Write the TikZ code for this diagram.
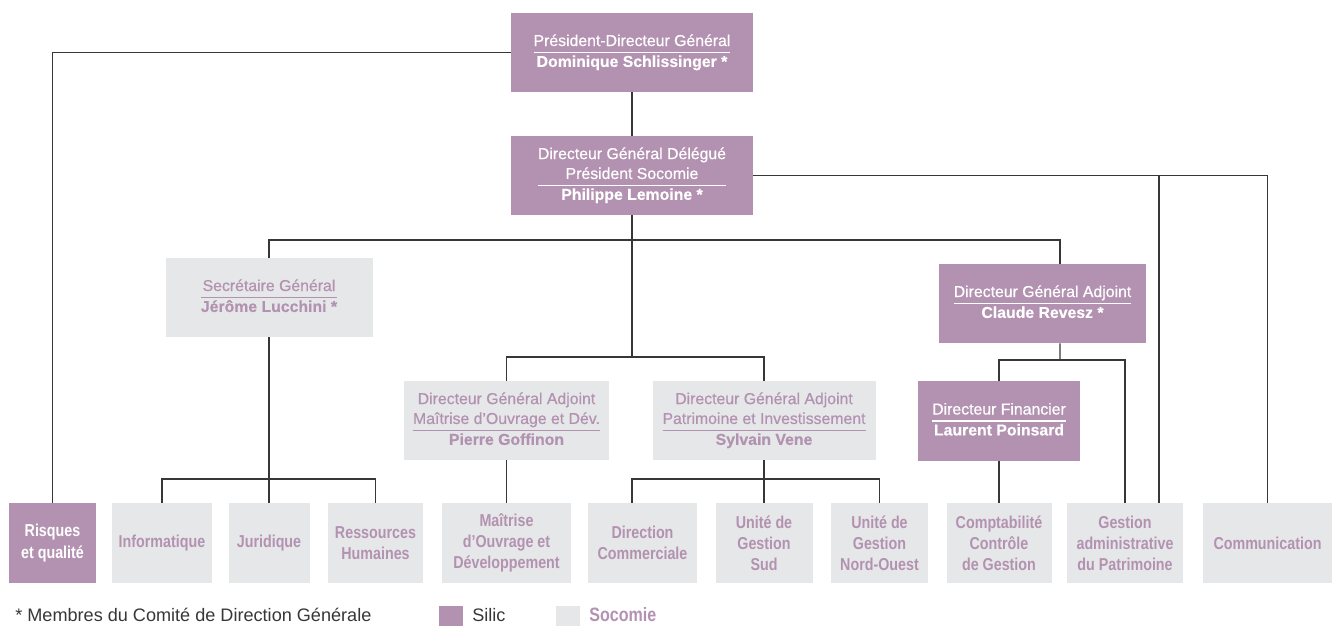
\documentclass[tikz,border=0pt]{standalone}
\usepackage{fontspec}
\setmainfont{Liberation Sans}[UprightFeatures={FakeBold=0.6}, BoldFeatures={FakeBold=0.4}]
\newfontfamily\medfont{Liberation Sans}[FakeStretch=0.83]
\newfontfamily\legfont{Liberation Sans}
\usepackage{tikz}

\definecolor{silic}{RGB}{179,146,177}
\definecolor{socomie}{RGB}{230,231,232}
\definecolor{trait}{RGB}{55,55,55}

\newlength\px
\setlength\px{0.02cm}
\setlength\arrayrulewidth{0.6pt}
\newcommand\poste[2]{\begin{tabular}{@{}c@{}}#1\\\hline\bfseries #2\end{tabular}}

\tikzset{
  boite/.style={inner sep=0pt, minimum height=79\px, font=\fontsize{9}{11.3}\selectfont},
  silicbox/.style={boite, fill=silic, text=white},
  socobox/.style={boite, fill=socomie, text=silic},
  service/.style={inner sep=0pt, minimum height=80\px, align=center, font=\medfont\bfseries\fontsize{9.8}{12}\selectfont},
  lien/.style={draw=trait, line width=0.8pt},
}

\begin{document}
\begin{tikzpicture}[x=0.02cm, y=-0.02cm]
    \useasboundingbox (0,0) rectangle (1337,625);

    \node[silicbox, minimum width=242\px] (pdg) at (632,52.5) {\poste{Président-Directeur Général}{Dominique Schlissinger *}};
    \node[silicbox, minimum width=242\px] (dgd) at (632,175.5) {\poste{Directeur Général Délégué\\Président Socomie}{Philippe Lemoine *}};
    \node[socobox, minimum width=207\px] (sg) at (269,297.5) {\poste{Secrétaire Général}{Jérôme Lucchini *}};
    \node[silicbox, minimum width=207\px] (revesz) at (1042.5,303.5) {\poste{Directeur Général Adjoint}{Claude Revesz *}};
    \node[socobox, minimum width=205\px] (mod) at (506.5,420.5) {\poste{Directeur Général Adjoint\\Maîtrise d’Ouvrage et Dév.}{Pierre Goffinon}};
    \node[socobox, minimum width=223\px] (pat) at (764,420.5) {\poste{Directeur Général Adjoint\\Patrimoine et Investissement}{Sylvain Vene}};
    \node[silicbox, minimum width=162\px, minimum height=80\px] (df) at (999,421) {\poste{Directeur Financier}{Laurent Poinsard}};

    \node[service, fill=silic, text=white, minimum width=87\px] (risques) at (52.5,543) {Risques\\et qualité};
    \node[service, fill=socomie, text=silic, minimum width=100\px] (info) at (162,543) {Informatique};
    \node[service, fill=socomie, text=silic, minimum width=81\px] (jur) at (269,543) {Juridique};
    \node[service, fill=socomie, text=silic, minimum width=95\px] (rh) at (375.5,543) {Ressources\\Humaines};
    \node[service, fill=socomie, text=silic, minimum width=129\px] (mdev) at (506.5,543) {Maîtrise\\d’Ouvrage et\\Développement};
    \node[service, fill=socomie, text=silic, minimum width=109\px] (dcom) at (642.5,543) {Direction\\Commerciale};
    \node[service, fill=socomie, text=silic, minimum width=97\px] (sud) at (764,543) {Unité de\\Gestion\\Sud};
    \node[service, fill=socomie, text=silic, minimum width=97\px] (no) at (879.5,543) {Unité de\\Gestion\\Nord-Ouest};
    \node[service, fill=socomie, text=silic, minimum width=105\px] (compta) at (999,543) {Comptabilité\\Contrôle\\de Gestion};
    \node[service, fill=socomie, text=silic, minimum width=116\px] (gestadm) at (1125,543) {Gestion\\administrative\\du Patrimoine};
    \node[service, fill=socomie, text=silic, minimum width=129\px] (comm) at (1267.5,543) {Communication};

    \coordinate (j1) at (632,240);
    \coordinate (j2) at (632,357);
    \coordinate (j3) at (764,479);
    \coordinate (j4) at (269,479);
    \coordinate (j5) at (1060,360);
    \coordinate (j6) at (1159,175.5);

    \draw[lien] (pdg.west) -| (risques.north);
    \draw[lien] (pdg) -- (dgd);
    \draw[lien] (dgd) -- (j2);
    \draw[lien] (sg) |- (j1) -| ([xshift=17.5\px]revesz.north);
    \draw[lien] (mod) |- (j2) -| (pat);
    \draw[lien] (mod) -- (mdev);
    \draw[lien] (pat) -- (sud);
    \draw[lien] (dcom.north -| dgd) |- (j3) -| (no);
    \draw[lien] (sg) -- (jur);
    \draw[lien] (info) |- (j4) -| (rh);
    \draw[lien] ([xshift=17.5\px]revesz.south) -- (j5);
    \draw[lien] (df) |- (j5) -| (gestadm);
    \draw[lien] (df) -- (compta);
    \draw[lien] (dgd) -| (comm);
    \draw[lien] (j6) -- (j6 |- gestadm.north);

    \node[fill=silic, inner sep=0pt, minimum width=24\px, minimum height=20\px] (clesilic) at (451,616) {};
    \node[fill=socomie, inner sep=0pt, minimum width=24\px, minimum height=20\px] (clesoco) at (568,616) {};
    \node[anchor=base west, inner sep=0pt, text=trait, font=\legfont\fontsize{10.3}{12}\selectfont] (membres) at (15,621) {* Membres du Comité de Direction Générale};
    \node[anchor=base west, inner sep=0pt, text=trait, font=\legfont\fontsize{10.3}{12}\selectfont] (txtsilic) at (472,621) {Silic};
    \node[anchor=base west, inner sep=0pt, text=silic, font=\medfont\bfseries\fontsize{11}{12}\selectfont] (txtsoco) at (589,621) {Socomie};
\end{tikzpicture}
\end{document}
